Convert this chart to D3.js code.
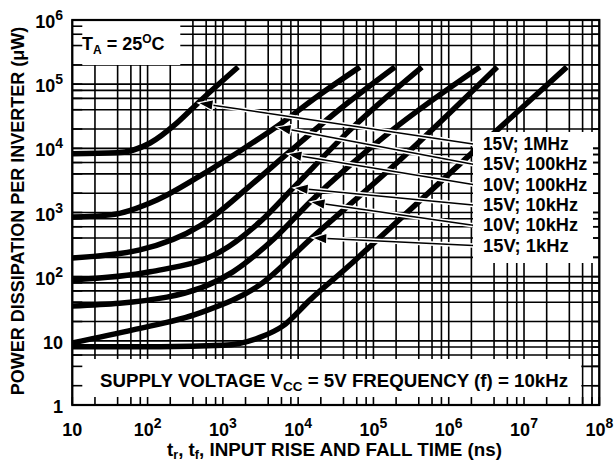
<!DOCTYPE html>
<html><head><meta charset="utf-8">
<script src="https://cdn.jsdelivr.net/npm/d3@7"></script>
<style>body{margin:0;background:#fff}svg text{font-family:"Liberation Sans",Arial,Helvetica,sans-serif;font-weight:bold;fill:#000}</style>
</head><body>
<svg id="c" width="615" height="464"></svg>
<script>
// ---- data (t in ns, P in microwatts) ----
const xDecades = [10, 1e2, 1e3, 1e4, 1e5, 1e6, 1e7, 1e8];
const xTickBase = ["10", "10", "10", "10", "10", "10", "10", "10"];
const xTickExp = ["", "2", "3", "4", "5", "6", "7", "8"];
const yDecades = [1, 10, 1e2, 1e3, 1e4, 1e5, 1e6];
const yTickBase = ["1", "10", "10", "10", "10", "10", "10"];
const yTickExp = ["", "", "2", "3", "4", "5", "6"];
const minorMultipliers = [2, 4, 6, 8];

const legendLabels = ["15V; 1MHz", "15V; 100kHz", "10V; 100kHz", "15V; 10kHz", "10V; 10kHz", "15V; 1kHz"];

const t15V1MHz = [10, 39, 108, 246, 468, 1590];
const p15V1MHz = [8200, 8500, 12100, 24900, 51000, 185000];
const t15V100kHz = [10, 32, 133, 497, 1690, 5100, 18300, 66000];
const p15V100kHz = [853, 918, 1570, 3720, 9100, 21500, 65500, 185000];
const t10V100kHz = [10, 79, 497, 2290, 7100, 36000, 193000];
const p10V100kHz = [196, 261, 618, 2600, 8200, 41000, 185000];
const t15V10kHz = [10, 108, 916, 3100, 8600, 49000, 440000];
const p15V10kHz = [89, 119, 243, 714, 2420, 19400, 185000];
const t10V10kHz = [10, 181, 1360, 4900, 14400, 166000, 2600000];
const p10V10kHz = [35, 48, 119, 402, 1460, 18000, 185000];
const t15V1kHz = [10, 64, 497, 3100, 15200, 225000, 4400000];
const p15V1kHz = [9.3, 14.8, 27.3, 74.5, 402, 6600, 185000];
const t5V10kHz = [10, 147, 1000, 3100, 6300, 14400, 49000, 98000, 1910000, 37000000];
const p5V10kHz = [8.1, 8.1, 8.5, 11.3, 17.1, 43.5, 153, 324, 7900, 185000];

// arrow targets for the legend entries (same order as legendLabels)
const arrowT = [468, 5100, 7100, 8600, 14400, 15200];
const arrowP = [51000, 21500, 8200, 2420, 1460, 402];

// ---- drawing ----
const svg = d3.select("#c");
const L = 72.3, R = 599.3, T = 20, B = 405;
const x = d3.scaleLog().domain([10, 1e8]).range([L, R]);
const y = d3.scaleLog().domain([1, 1e6]).range([B, T]);

const xGrid = [], yGrid = [];
xDecades.forEach((d, i) => { xGrid.push(d); if (i < xDecades.length - 1) minorMultipliers.forEach(m => xGrid.push(d * m)); });
yDecades.forEach((d, i) => { yGrid.push(d); if (i < yDecades.length - 1) minorMultipliers.forEach(m => yGrid.push(d * m)); });

const g = svg.append("g");
g.selectAll("line.vx").data(xGrid).join("line")
  .attr("x1", d => x(d)).attr("x2", d => x(d)).attr("y1", T).attr("y2", B)
  .attr("stroke", "#000").attr("stroke-width", 1.6);
g.selectAll("line.hy").data(yGrid).join("line")
  .attr("y1", d => y(d)).attr("y2", d => y(d)).attr("x1", L).attr("x2", R)
  .attr("stroke", "#000").attr("stroke-width", 1.6);

// white boxes masking the grid
svg.append("rect").attr("x", L + 1).attr("y", T + 1).attr("width", 107).attr("height", 44).attr("fill", "#fff");
svg.append("rect").attr("x", L + 1).attr("y", 359).attr("width", 508).attr("height", B - 360).attr("fill", "#fff");

// ticks at the edges (visible inside masked areas)
const tk = svg.append("g").attr("stroke", "#000").attr("stroke-width", 1.6);
tk.selectAll("line.b").data(xGrid).join("line")
  .attr("x1", d => x(d)).attr("x2", d => x(d)).attr("y1", B).attr("y2", B - 8);
tk.selectAll("line.l").data(yGrid).join("line")
  .attr("y1", d => y(d)).attr("y2", d => y(d)).attr("x1", L).attr("x2", L + 10);
tk.selectAll("line.r").data(yGrid).join("line")
  .attr("y1", d => y(d)).attr("y2", d => y(d)).attr("x1", R).attr("x2", R - 7);

// curves
const line = d3.line().x(d => x(d[0])).y(d => y(d[1])).curve(d3.curveMonotoneX);
const curveT = [t15V1MHz, t15V100kHz, t10V100kHz, t15V10kHz, t10V10kHz, t15V1kHz, t5V10kHz];
const curveP = [p15V1MHz, p15V100kHz, p10V100kHz, p15V10kHz, p10V10kHz, p15V1kHz, p5V10kHz];
curveT.forEach((ts, i) => {
  svg.append("path").datum(ts.map((t, j) => [t, curveP[i][j]]))
    .attr("d", line).attr("fill", "none").attr("stroke", "#000")
    .attr("stroke-width", 5.5).attr("stroke-linecap", "butt");
});

// legend box and arrows
const legX = 473, legBase0 = 150, legStep = 20.3;
const ag = svg.append("g");
legendLabels.forEach((lab, i) => {
  const x0 = legX, y0 = legBase0 + i * legStep - 6;
  const x1 = x(arrowT[i]), y1 = y(arrowP[i]);
  const dx = x1 - x0, dy = y1 - y0, len = Math.hypot(dx, dy);
  const ux = dx / len, uy = dy / len;
  const hl = 15, hw = 5.5;
  const bx = x1 - ux * hl, by = y1 - uy * hl;
  ag.append("line").attr("x1", x0).attr("y1", y0).attr("x2", bx).attr("y2", by)
    .attr("stroke", "#fff").attr("stroke-width", 4.5);
  ag.append("line").attr("x1", x0).attr("y1", y0).attr("x2", bx).attr("y2", by)
    .attr("stroke", "#000").attr("stroke-width", 1.5);
  ag.append("path")
    .attr("d", `M${x1},${y1}L${bx - uy * hw},${by + ux * hw}L${bx + uy * hw},${by - ux * hw}Z`)
    .attr("fill", "#000").attr("stroke", "#fff").attr("stroke-width", 1.2);
});
svg.append("rect").attr("x", legX).attr("y", 132).attr("width", 120).attr("height", 131).attr("fill", "#fff");
legendLabels.forEach((lab, i) => {
  svg.append("text").attr("x", legX + 10).attr("y", legBase0 + i * legStep)
    .attr("font-size", 18).attr("textLength", lab.length * 9.4 + 1).attr("lengthAdjust", "spacingAndGlyphs").text(lab);
});

// frame
svg.append("rect").attr("x", L).attr("y", T).attr("width", R - L).attr("height", B - T)
  .attr("fill", "none").attr("stroke", "#000").attr("stroke-width", 2.2);

// T_A label
const ta = svg.append("text").attr("x", 82).attr("y", 50).attr("font-size", 18);
ta.append("tspan").text("T");
ta.append("tspan").attr("font-size", 12).attr("dy", 4).text("A");
ta.append("tspan").attr("dy", -4).text(" = 25");
ta.append("tspan").attr("font-size", 12).attr("dy", -7).text("O");
ta.append("tspan").attr("dy", 7).text("C");

// supply voltage label
const sv = svg.append("text").attr("x", 100).attr("y", 387).attr("font-size", 18)
  .attr("textLength", 468).attr("lengthAdjust", "spacingAndGlyphs");
sv.append("tspan").text("SUPPLY VOLTAGE V");
sv.append("tspan").attr("font-size", 13).attr("dy", 4).text("CC");
sv.append("tspan").attr("dy", -4).text(" = 5V FREQUENCY (f) = 10kHz");

// axis tick labels
xDecades.forEach((d, i) => {
  const t = svg.append("text").attr("x", x(d)).attr("y", 436).attr("text-anchor", "middle").attr("font-size", 18);
  t.append("tspan").text(xTickBase[i]);
  if (xTickExp[i]) t.append("tspan").attr("font-size", 14).attr("dy", -8).text(xTickExp[i]);
});
yDecades.forEach((d, i) => {
  const t = svg.append("text").attr("x", 63).attr("y", y(d) + 8).attr("text-anchor", "end").attr("font-size", 18);
  t.append("tspan").text(yTickBase[i]);
  if (yTickExp[i]) t.append("tspan").attr("font-size", 14).attr("dy", -8).text(yTickExp[i]);
});

// axis titles
const xt = svg.append("text").attr("x", 167).attr("y", 456).attr("font-size", 18)
  .attr("textLength", 335).attr("lengthAdjust", "spacingAndGlyphs");
xt.append("tspan").text("t");
xt.append("tspan").attr("font-size", 12).attr("dy", 3).text("r");
xt.append("tspan").attr("dy", -3).text(", t");
xt.append("tspan").attr("font-size", 12).attr("dy", 3).text("f");
xt.append("tspan").attr("dy", -3).text(", INPUT RISE AND FALL TIME (ns)");

svg.append("text").attr("transform", "translate(24,211) rotate(-90)")
  .attr("text-anchor", "middle").attr("font-size", 18)
  .text("POWER DISSIPATION PER INVERTER (\u03BCW)");
</script>
</body></html>
